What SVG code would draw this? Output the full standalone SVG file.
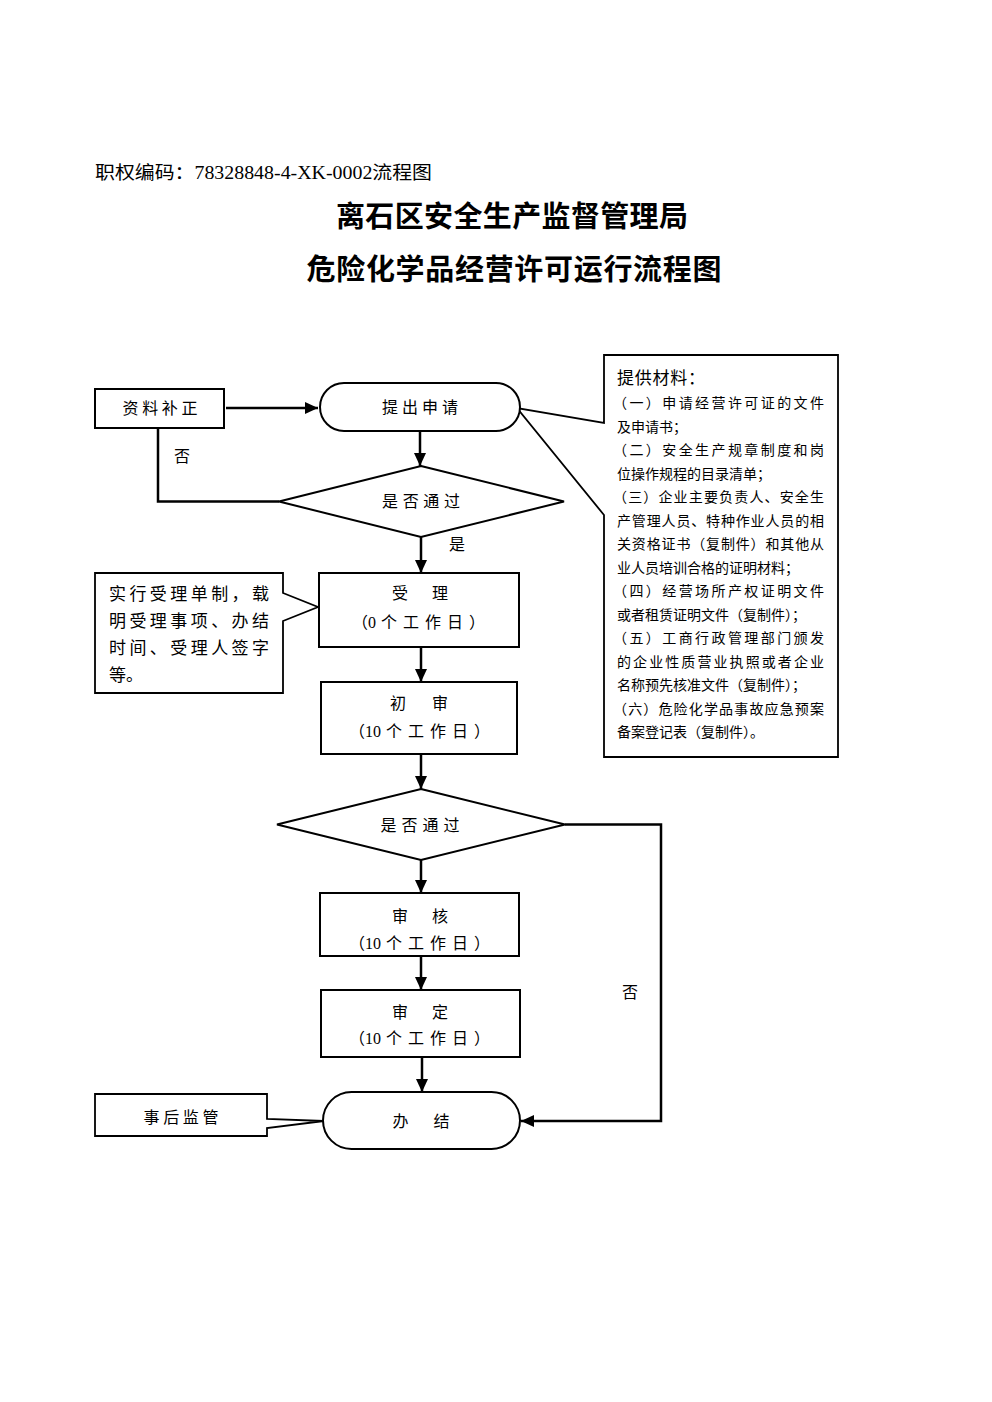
<svg xmlns="http://www.w3.org/2000/svg" width="992" height="1402" viewBox="0 0 992 1402">
<style>
text { font-family: "Liberation Serif", "Noto Sans CJK SC", serif; fill: #000; }
.n { font-size: 16px; text-anchor: middle; }
.d { font-size: 16px; }
.sp { letter-spacing: 6px; }
.m { font-size: 14px; }
.c { font-size: 17px; }
.t { font-family: "Noto Sans CJK SC", sans-serif; font-size: 29px; font-weight: bold; text-anchor: middle; }
.box { fill: #fff; stroke: #000; stroke-width: 2; }
.co { fill: #fff; stroke: #000; stroke-width: 1.8; stroke-linejoin: miter; }
.ln { fill: none; stroke: #000; stroke-width: 2.5; }
.ar { fill: none; stroke: #000; stroke-width: 2.5; marker-end: url(#ah); }
</style>
<defs>
<marker id="ah" markerUnits="userSpaceOnUse" markerWidth="14" markerHeight="12" refX="13" refY="6" orient="auto">
<path d="M0,0 L13,6 L0,12 Z" fill="#000"/>
</marker>
</defs>
<rect width="992" height="1402" fill="#fff"/>

<g id="header">
<text x="95" y="179" style="font-size:18px" textLength="337" lengthAdjust="spacingAndGlyphs">职权编码：78328848-4-XK-0002流程图</text>
<text class="t" x="512" y="227" textLength="352">离石区安全生产监督管理局</text>
<text class="t" x="514" y="280" textLength="415">危险化学品经营许可运行流程图</text>
</g>

<g id="connectors">
<path class="ar" d="M226,408 L318,408"/>
<path class="ar" d="M420,431 L420,466"/>
<path class="ar" d="M421,537 L421,573"/>
<path class="ln" d="M279,501.5 L158,501.5 L158,428"/>
<path class="ar" d="M421,647 L421,682"/>
<path class="ar" d="M421,754 L421,789"/>
<path class="ar" d="M421,860 L421,893"/>
<path class="ar" d="M421,956 L421,990"/>
<path class="ar" d="M422,1057 L422,1092"/>
<path class="ar" d="M565,824.5 L661,824.5 L661,1121 L521,1121"/>
<text class="n" x="182" y="462">否</text>
<text class="n" x="457" y="550">是</text>
<text class="n" x="630" y="998">否</text>
</g>

<g id="materials">
<path class="co" d="M604,355 L838,355 L838,757 L604,757 L604,515 L517,408 L604,423 Z"/>
<text x="617" y="384" style="font-size:17px" textLength="88">提供材料：</text>
<text class="m" x="613" y="408" textLength="211">（一）申请经营许可证的文件</text>
<text class="m" x="617" y="431.5">及申请书；</text>
<text class="m" x="613" y="455" textLength="211">（二）安全生产规章制度和岗</text>
<text class="m" x="617" y="478.5">位操作规程的目录清单；</text>
<text class="m" x="613" y="502" textLength="211">（三）企业主要负责人、安全生</text>
<text class="m" x="617" y="525.5" textLength="207">产管理人员、特种作业人员的相</text>
<text class="m" x="617" y="549" textLength="207">关资格证书（复制件）和其他从</text>
<text class="m" x="617" y="572.5">业人员培训合格的证明材料；</text>
<text class="m" x="613" y="596" textLength="211">（四）经营场所产权证明文件</text>
<text class="m" x="617" y="619.5">或者租赁证明文件（复制件）；</text>
<text class="m" x="613" y="643" textLength="211">（五）工商行政管理部门颁发</text>
<text class="m" x="617" y="666.5" textLength="207">的企业性质营业执照或者企业</text>
<text class="m" x="617" y="690">名称预先核准文件（复制件）；</text>
<text class="m" x="613" y="713.5" textLength="211">（六）危险化学品事故应急预案</text>
<text class="m" x="617" y="737">备案登记表（复制件）。</text>
</g>

<g id="n-bz">
<rect class="box" x="95" y="389" width="129" height="39"/>
<text class="n" x="160" y="414" textLength="75">资料补正</text>
</g>

<g id="n-sq">
<rect class="box" x="320" y="383" width="200" height="48" rx="24" ry="24"/>
<text class="n" x="420" y="413" textLength="76">提出申请</text>
</g>

<g id="n-d1">
<polygon class="box" points="421,466 564,501.5 421,537 279,501.5"/>
<text class="n" x="421" y="507" textLength="78">是否通过</text>
</g>

<g id="n-note1">
<path class="co" d="M95,573 L283,573 L283,593 L318,607 L283,621 L283,693 L95,693 Z"/>
<text class="c" x="109" y="600" textLength="160">实行受理单制，载</text>
<text class="c" x="109" y="627" textLength="160">明受理事项、办结</text>
<text class="c" x="109" y="654" textLength="160">时间、受理人签字</text>
<text class="c" x="109" y="681">等。</text>
</g>

<g id="n-sl">
<rect class="box" x="319" y="573" width="200" height="74"/>
<text class="n" x="420" y="599" textLength="56">受　理</text>
<text class="d" x="352" y="628">（0<tspan dx="5" class="sp">个工作日</tspan><tspan>）</tspan></text>
</g>

<g id="n-cs">
<rect class="box" x="321" y="682" width="196" height="72"/>
<text class="n" x="419" y="709" textLength="58">初　审</text>
<text class="d" x="349" y="737">（10<tspan dx="5" class="sp">个工作日</tspan><tspan>）</tspan></text>
</g>

<g id="n-d2">
<polygon class="box" points="421,789 565,824.5 421,860 277,824.5"/>
<text class="n" x="420" y="831" textLength="79">是否通过</text>
</g>

<g id="n-sh">
<rect class="box" x="320" y="893" width="199" height="63"/>
<text class="n" x="420" y="922" textLength="56">审　核</text>
<text class="d" x="349" y="949">（10<tspan dx="5" class="sp">个工作日</tspan><tspan>）</tspan></text>
</g>

<g id="n-sd">
<rect class="box" x="321" y="990" width="199" height="67"/>
<text class="n" x="420" y="1018" textLength="56">审　定</text>
<text class="d" x="349" y="1044">（10<tspan dx="5" class="sp">个工作日</tspan><tspan>）</tspan></text>
</g>

<g id="n-note2">
<path class="co" d="M95,1094 L267,1094 L267,1119 L324,1121 L267,1128 L267,1136 L95,1136 Z"/>
<text class="n" x="181" y="1123" textLength="75">事后监管</text>
</g>

<g id="n-bj">
<rect class="box" x="323" y="1092" width="197" height="57" rx="28.5" ry="28.5"/>
<text class="n" x="421" y="1127" textLength="57">办　结</text>
</g>
</svg>
